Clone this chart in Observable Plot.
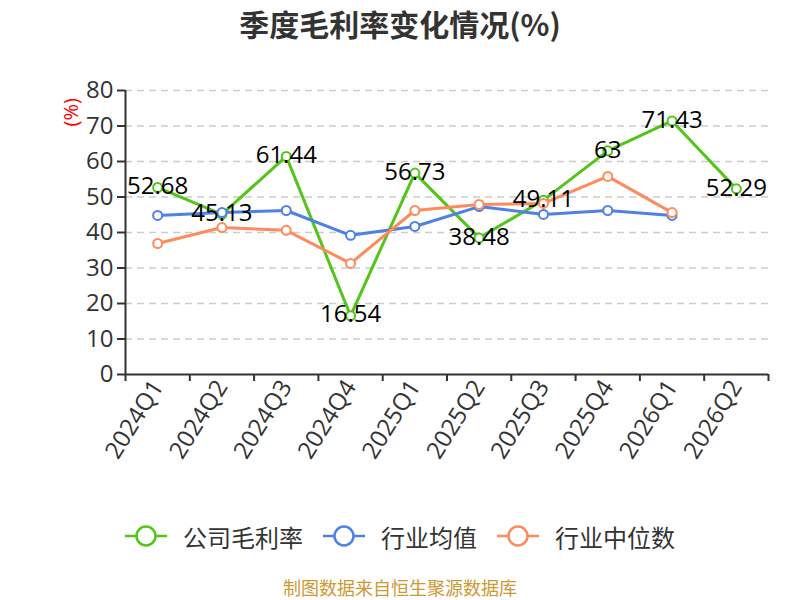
<!DOCTYPE html>
<html>
<head>
<meta charset="utf-8">
<script src="https://cdn.jsdelivr.net/npm/d3@7"></script>
<script src="https://cdn.jsdelivr.net/npm/@observablehq/plot@0.6"></script>
<style>
  body { margin: 0; background: #fff; width: 800px; height: 600px; overflow: hidden;
         font-family: "Open Sans", "Noto Sans CJK SC", sans-serif; }
  #title { height: 50px; line-height: 46px; text-align: center; font-size: 30px; font-weight: bold; color: #333;
           font-family: "Noto Sans CJK SC", sans-serif; }
  #chart { height: 450px; }
  #legend { display: flex; justify-content: center; align-items: center; height: 36px; margin-top: 18px;
            font-size: 24px; color: #333; font-family: "Noto Sans CJK SC", sans-serif; }
  .item { display: flex; align-items: center; margin: 0 10px; }
  .item svg { margin-right: 16px; }
  #caption { text-align: center; font-size: 18px; color: #cc9933; margin-top: 20px;
             font-family: "Noto Sans CJK SC", sans-serif; }
</style>
</head>
<body>
<div id="title">季度毛利率变化情况(%)</div>
<div id="chart"></div>
<div id="legend"></div>
<div id="caption">制图数据来自恒生聚源数据库</div>
<script>
const categories = ["2024Q1","2024Q2","2024Q3","2024Q4","2025Q1","2025Q2","2025Q3","2025Q4","2026Q1","2026Q2"];
const companyMargin = [52.68, 45.13, 61.44, 16.54, 56.73, 38.48, 49.11, 63, 71.43, 52.29];
const industryAvg = [44.8, 45.6, 46.2, 39.2, 41.7, 47.3, 45.1, 46.2, 44.8, null];
const industryMedian = [36.9, 41.4, 40.6, 31.3, 46.2, 47.9, 48.2, 55.8, 45.6, null];
const seriesNames = ["公司毛利率", "行业均值", "行业中位数"];
const seriesColors = ["#52c41a", "#4e80e6", "#ff8a5b"];
const yTicks = [0, 10, 20, 30, 40, 50, 60, 70, 80];
const unitLabel = "(%)";

const toRows = (arr) => arr.map((v, i) => ({i, v})).filter(d => d.v != null);
const company = toRows(companyMargin);
const avg = toRows(industryAvg);
const med = toRows(industryMedian);

const lineAndDots = (rows, color) => [
  Plot.line(rows, {x: "i", y: "v", stroke: color, strokeWidth: 3}),
  Plot.dot(rows, {x: "i", y: "v", r: 4.5, fill: "#fff", stroke: color, strokeWidth: 2})
];

const plot = Plot.plot({
  width: 800,
  height: 450,
  marginLeft: 125,
  marginRight: 32,
  marginTop: 40,
  marginBottom: 126,
  style: {fontFamily: "'Open Sans', 'Noto Sans CJK SC', sans-serif", color: "#333", background: "#fff"},
  x: {type: "linear", domain: [-0.5, categories.length - 0.5]},
  y: {domain: [0, 80]},
  marks: [
    Plot.ruleY(yTicks.filter(d => d > 0), {stroke: "#cccccc", strokeWidth: 1.5, strokeDasharray: "7,5"}),
    Plot.axisY({ticks: yTicks, tickSize: 8, tickPadding: 4, fontSize: 24, label: null, stroke: "#333", strokeWidth: 2, strokeOpacity: 1}),
    Plot.axisX({ticks: d3.range(-0.5, categories.length, 1), tickFormat: () => "", tickSize: 7, label: null, stroke: "#333", strokeWidth: 2, strokeOpacity: 1}),
    Plot.axisX({ticks: d3.range(categories.length), tickFormat: i => categories[i], tickSize: 0, tickPadding: 8, tickRotate: -58, fontSize: 24, label: null}),
    Plot.ruleX([-0.5], {stroke: "#333", strokeWidth: 2}),
    Plot.ruleY([0], {stroke: "#333", strokeWidth: 2}),
    Plot.text([unitLabel], {frameAnchor: "top-left", text: d => d, rotate: -90, dx: -62, dy: 36, fill: "red", fontSize: 20}),
    ...lineAndDots(company, seriesColors[0]),
    ...lineAndDots(avg, seriesColors[1]),
    ...lineAndDots(med, seriesColors[2]),
    Plot.text(company, {x: "i", y: "v", text: d => String(d.v), fontSize: 24, fill: "#000", dy: -1})
  ]
});
document.getElementById("chart").appendChild(plot);

const legend = document.getElementById("legend");
seriesNames.forEach((name, k) => {
  const item = document.createElement("div");
  item.className = "item";
  item.innerHTML = `<svg width="42" height="26"><line x1="0" y1="13" x2="42" y2="13" stroke="${seriesColors[k]}" stroke-width="2.5"/><circle cx="21" cy="13" r="9.5" fill="#fff" stroke="${seriesColors[k]}" stroke-width="2.5"/></svg><span>${name}</span>`;
  legend.appendChild(item);
});
</script>
</body>
</html>
